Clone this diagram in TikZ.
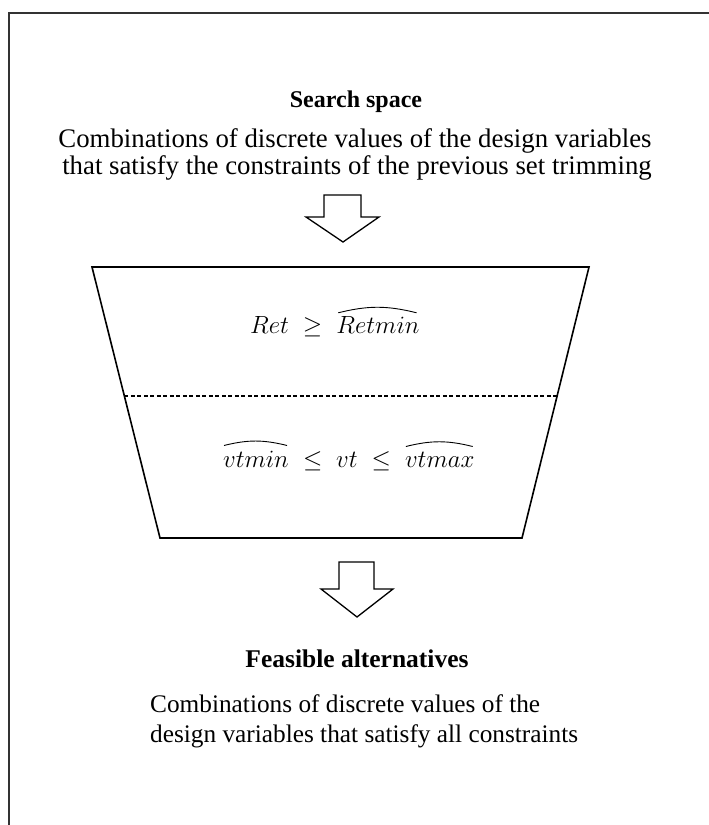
\documentclass[tikz,border=0pt]{standalone}
\usepackage{fontspec}
\setmainfont{Liberation Serif}
\usetikzlibrary{calc}
\begin{document}
\begin{tikzpicture}[x=1pt,y=-1pt,
  body/.style={font=\fontsize{26.8}{28}\selectfont, inner sep=0pt},
  smallbody/.style={font=\fontsize{25.3}{28}\selectfont, inner sep=0pt, anchor=base west},
  heading/.style={font=\fontsize{#1}{28}\selectfont\bfseries, inner sep=0pt, anchor=base},
  formula/.style={font=\fontsize{28}{30}\selectfont, inner sep=0pt, anchor=base west},
  hat/.style={draw=black, line width=0.9pt},
  hollow/.style={draw=black, line width=1.3pt, fill=white, line join=miter},
  funnel/.style={draw=black, line width=1.6pt, line join=miter},
  split/.style={draw=black, line width=1.3pt, dash pattern=on 4pt off 2.5pt}]
\useasboundingbox (0,0) rectangle (709,825);

% frame
\draw[line width=1.6pt, black!80] (9,825) -- (9,13) -- (709,13);

% search space
\node[heading=24] (sstitle) at (356,107) {Search space};
\node[body, anchor=base] (ssline1) at (355,147) {Combinations of discrete values of the design variables};
\node[body, anchor=base] (ssline2) at (357,174) {that satisfy the constraints of the previous set trimming};

% arrow into the funnel
\draw[hollow] (324,195) -- (361,195) -- (361,217) -- (379,217) -- (343,242)
  -- (306,217) -- (324,217) -- cycle;

% funnel
\coordinate (tl) at (92,267);
\coordinate (tr) at (589,267);
\coordinate (br) at (522,538);
\coordinate (bl) at (160,538);
\draw[funnel] (tl) -- (tr) -- (br) -- (bl) -- cycle;
\coordinate (sl) at ($(tl)!0.476!(bl)$);
\coordinate (sr) at ($(tr)!0.476!(br)$);
\draw[split] (sl) -- (sr);

% first constraint
\node[formula] (c1a) at (250,333) {$Ret\;\geq\;\;$};
\node[formula] (c1b) at (c1a.base east) {$Retmin$};
\draw[hat] ([xshift=2pt,yshift=3pt]c1b.north west) to[bend left=14] ([xshift=-3pt,yshift=3pt]c1b.north east);

% second constraint
\node[formula] (c2a) at (223,467) {$vtmin$};
\node[formula] (c2b) at (c2a.base east) {$\;\;\leq\;vt\;\leq\;\;$};
\node[formula] (c2c) at (c2b.base east) {$vtmax$};
\draw[hat] ([xshift=1pt,yshift=5pt]c2a.north west) to[bend left=14] ([xshift=-2pt,yshift=5pt]c2a.north east);
\draw[hat] ([xshift=1pt,yshift=5pt]c2c.north west) to[bend left=14] ([xshift=-2pt,yshift=5pt]c2c.north east);

% arrow out of the funnel
\draw[hollow] (339,562) -- (374,562) -- (374,589) -- (393,589) -- (357,617)
  -- (321,589) -- (339,589) -- cycle;

% feasible alternatives
\node[heading=25.5] (fatitle) at (357,667) {Feasible alternatives};
\node[smallbody] (faline1) at (150,712) {Combinations of discrete values of the};
\node[smallbody] (faline2) at (150,742) {design variables that satisfy all constraints};
\end{tikzpicture}
\end{document}
